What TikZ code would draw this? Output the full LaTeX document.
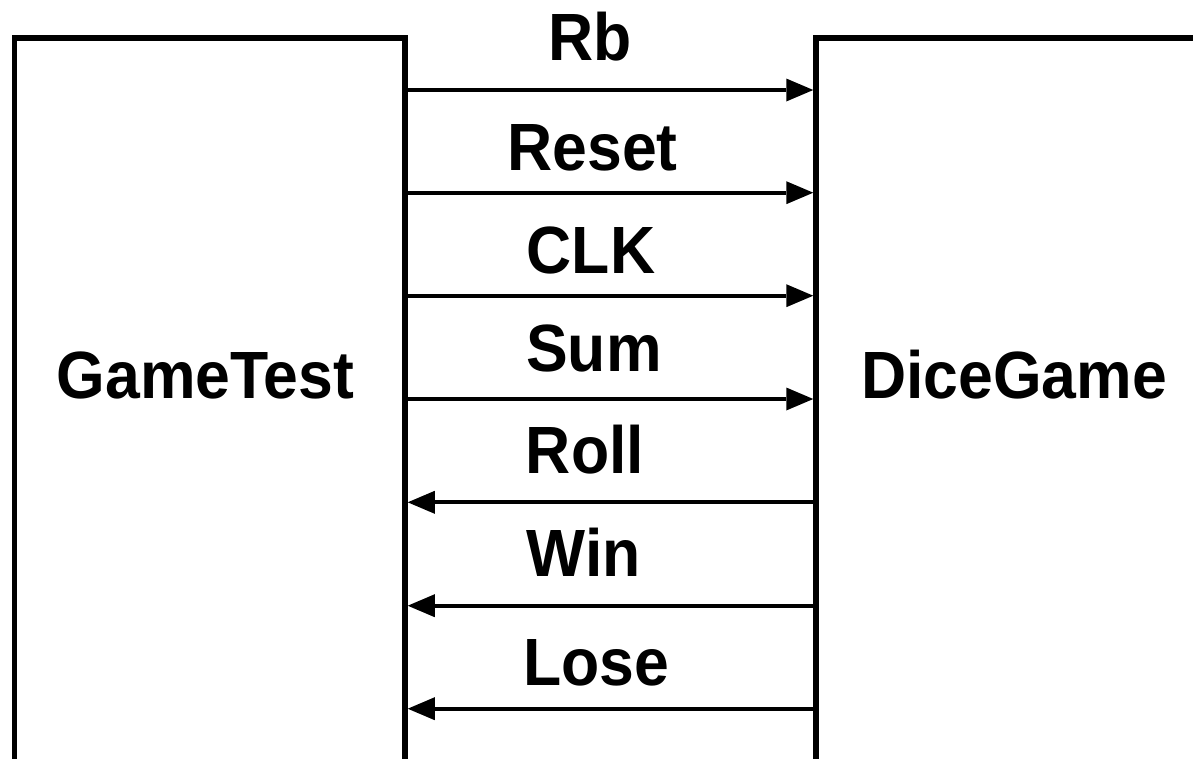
\documentclass[tikz,border=0pt]{standalone}
\usepackage{fontspec}
\setmainfont{Liberation Sans}
\usetikzlibrary{arrows.meta}
\tikzset{
  block/.style={draw, line width=5.5pt, inner sep=0pt, outer sep=2.75pt, anchor=north west},
  sig/.style={line width=3.7pt, -{Triangle[length=27pt,width=23pt,line width=0pt]}},
  lbl/.style={anchor=base, inner sep=0pt, font=\bfseries\fontsize{62.5}{74}\selectfont}
}
\newcommand{\tall}[1]{\scalebox{1}[1.07]{#1}}
\begin{document}
\begin{tikzpicture}[x=1pt,y=-1pt]
\useasboundingbox (0,0) rectangle (1193,758);
\clip (0,0) rectangle (1193,758);
\fill[white] (0,0) rectangle (1193,758);
\node[block, minimum width=390.5pt, minimum height=800pt] (gt) at (11.75,35.25) {};
\node[block, minimum width=444pt, minimum height=800pt] (dg) at (813.25,35.25) {};
\node[lbl] (gtl) at (205.5,398) {\tall{GameTest}};
\node[lbl] (dgl) at (1014,398) {\tall{DiceGame}};
% signals
\draw[sig] (gt.east |- 0,90) -- (dg.west |- 0,90);
\draw[sig] (gt.east |- 0,192.7) -- (dg.west |- 0,192.7);
\draw[sig] (gt.east |- 0,295.7) -- (dg.west |- 0,295.7);
\draw[sig] (gt.east |- 0,399) -- (dg.west |- 0,399);
\draw[sig] (dg.west |- 0,502.3) -- (gt.east |- 0,502.3);
\draw[sig] (dg.west |- 0,605.7) -- (gt.east |- 0,605.7);
\draw[sig] (dg.west |- 0,708.7) -- (gt.east |- 0,708.7);
\node[lbl] (rb) at (590,60.5) {\tall{Rb}};
\node[lbl] (reset) at (592.5,170) {\tall{Reset}};
\node[lbl] (clk) at (591,273) {\tall{CLK}};
\node[lbl] (sum) at (594,371) {\tall{Sum}};
\node[lbl] (roll) at (585,473) {\tall{Roll}};
\node[lbl] (win) at (583.5,576.5) {\tall{Win}};
\node[lbl] (lose) at (596,685) {\tall{Lose}};
\end{tikzpicture}
\end{document}
